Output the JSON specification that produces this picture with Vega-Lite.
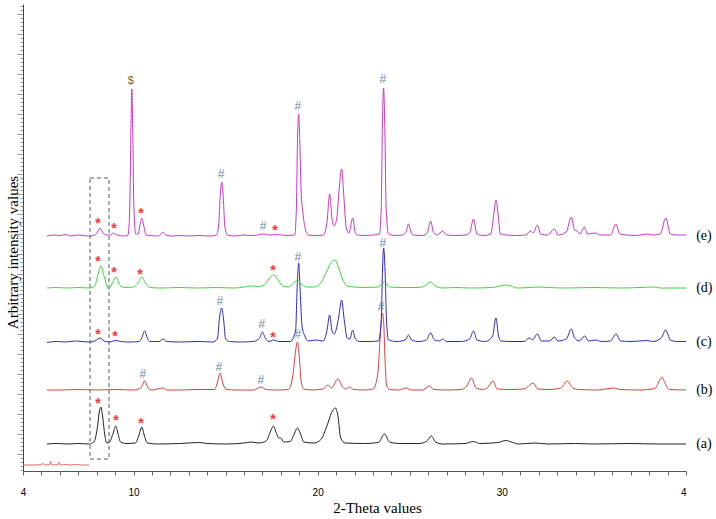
{
"$schema": "https://vega.github.io/schema/vega-lite/v6.json",
"width": 663, "height": 467,
"autosize": {"type": "none"},
"padding": {"left": 23, "top": 4, "right": 30, "bottom": 48},
"background": "white",
"config": {"view": {"stroke": null}},
"datasets": {
"box": [{"x": 7.64, "xe": 8.67, "y": 12, "ye": 293}],
"labels": [{"x": 40.55, "y": 27, "t": "(a)"}, {"x": 40.55, "y": 81, "t": "(b)"}, {"x": 40.55, "y": 129, "t": "(c)"}, {"x": 40.55, "y": 183, "t": "(d)"}, {"x": 40.55, "y": 235, "t": "(e)"}],
"marks": [
{"t":"*","x":8.07,"y":250},{"t":"*","x":8.94,"y":245},{"t":"*","x":10.41,"y":260},{"t":"$","x":9.86,"y":390},{"t":"#","x":14.75,"y":297},{"t":"#","x":17.03,"y":245},{"t":"*","x":17.68,"y":243},{"t":"#","x":18.93,"y":365},{"t":"#","x":23.54,"y":392},
{"t":"*","x":8.07,"y":212},{"t":"*","x":8.94,"y":201},{"t":"*","x":10.35,"y":199},{"t":"*","x":17.57,"y":203},{"t":"#","x":18.93,"y":214},{"t":"#","x":23.54,"y":228},
{"t":"*","x":8.07,"y":139},{"t":"*","x":8.99,"y":137},{"t":"#","x":14.69,"y":170},{"t":"#","x":16.97,"y":147},{"t":"*","x":17.57,"y":136},{"t":"#","x":18.93,"y":137},{"t":"#","x":23.44,"y":164},
{"t":"#","x":10.51,"y":97},{"t":"#","x":14.64,"y":104},{"t":"#","x":16.92,"y":91},
{"t":"*","x":8.07,"y":70},{"t":"*","x":9.05,"y":53},{"t":"*","x":10.41,"y":50},{"t":"*","x":17.57,"y":54}
],
"traces": [
{"s":"f","x":4.0,"y":6},{"s":"f","x":4.6,"y":6},{"s":"f","x":5.0,"y":6.5},{"s":"f","x":5.08,"y":8},{"s":"f","x":5.15,"y":6},{"s":"f","x":5.45,"y":6.5},{"s":"f","x":5.5,"y":10},{"s":"f","x":5.55,"y":6},{"s":"f","x":5.9,"y":6.5},{"s":"f","x":5.95,"y":9},{"s":"f","x":6.0,"y":6},{"s":"f","x":6.3,"y":6.5},{"s":"f","x":6.6,"y":6},{"s":"f","x":6.9,"y":6.5},{"s":"f","x":7.2,"y":6},{"s":"f","x":7.6,"y":6},

{"s":"a","x":5.3,"y":27},{"s":"a","x":5.8,"y":27.5},{"s":"a","x":6.5,"y":27},{"s":"a","x":7.0,"y":27.5},{"s":"a","x":7.6,"y":27},{"s":"a","x":7.85,"y":29},{"s":"a","x":8.05,"y":45},{"s":"a","x":8.15,"y":60},{"s":"a","x":8.23,"y":64},{"s":"a","x":8.32,"y":55},{"s":"a","x":8.45,"y":35},{"s":"a","x":8.55,"y":28},{"s":"a","x":8.7,"y":29},{"s":"a","x":8.9,"y":38},{"s":"a","x":9.04,"y":45},{"s":"a","x":9.15,"y":38},{"s":"a","x":9.3,"y":29},{"s":"a","x":9.6,"y":27.5},{"s":"a","x":10.1,"y":28},{"s":"a","x":10.3,"y":36},{"s":"a","x":10.45,"y":44},{"s":"a","x":10.58,"y":36},{"s":"a","x":10.75,"y":28},{"s":"a","x":11.3,"y":27},{"s":"a","x":12.5,"y":27.5},{"s":"a","x":13.6,"y":28.5},{"s":"a","x":14.0,"y":27.5},{"s":"a","x":15.0,"y":27},{"s":"a","x":16.0,"y":28},{"s":"a","x":16.4,"y":29},{"s":"a","x":16.8,"y":28},{"s":"a","x":17.2,"y":30},{"s":"a","x":17.45,"y":40},{"s":"a","x":17.6,"y":45},{"s":"a","x":17.75,"y":38},{"s":"a","x":17.9,"y":33},{"s":"a","x":18.0,"y":33},{"s":"a","x":18.15,"y":29},{"s":"a","x":18.5,"y":29.5},{"s":"a","x":18.75,"y":38},{"s":"a","x":18.9,"y":43},{"s":"a","x":19.05,"y":38},{"s":"a","x":19.25,"y":29},{"s":"a","x":19.8,"y":28},{"s":"a","x":20.2,"y":32},{"s":"a","x":20.5,"y":45},{"s":"a","x":20.8,"y":60},{"s":"a","x":20.97,"y":63},{"s":"a","x":21.1,"y":55},{"s":"a","x":21.25,"y":33},{"s":"a","x":21.5,"y":28},{"s":"a","x":22.5,"y":27.5},{"s":"a","x":23.3,"y":28.5},{"s":"a","x":23.63,"y":37},{"s":"a","x":23.9,"y":29},{"s":"a","x":24.5,"y":27.5},{"s":"a","x":25.5,"y":27.5},{"s":"a","x":25.9,"y":29.5},{"s":"a","x":26.18,"y":35},{"s":"a","x":26.4,"y":29},{"s":"a","x":26.8,"y":27},{"s":"a","x":28.0,"y":27.5},{"s":"a","x":28.46,"y":29.5},{"s":"a","x":28.8,"y":27.5},{"s":"a","x":29.8,"y":28.5},{"s":"a","x":30.2,"y":30.5},{"s":"a","x":30.6,"y":28.5},{"s":"a","x":30.9,"y":27},{"s":"a","x":31.8,"y":28},{"s":"a","x":32.5,"y":27},{"s":"a","x":34.0,"y":27.5},{"s":"a","x":35.0,"y":27},{"s":"a","x":37.0,"y":27.5},{"s":"a","x":38.5,"y":27},{"s":"a","x":40.0,"y":27},

{"s":"b","x":5.3,"y":81},{"s":"b","x":6.0,"y":81},{"s":"b","x":7.0,"y":81.5},{"s":"b","x":8.0,"y":81},{"s":"b","x":9.0,"y":81.5},{"s":"b","x":10.0,"y":81},{"s":"b","x":10.4,"y":83},{"s":"b","x":10.6,"y":90},{"s":"b","x":10.8,"y":83},{"s":"b","x":11.0,"y":81},{"s":"b","x":11.6,"y":83},{"s":"b","x":11.8,"y":81},{"s":"b","x":12.5,"y":81},{"s":"b","x":13.5,"y":81.5},{"s":"b","x":14.4,"y":81.5},{"s":"b","x":14.55,"y":88},{"s":"b","x":14.7,"y":98},{"s":"b","x":14.85,"y":88},{"s":"b","x":15.0,"y":82},{"s":"b","x":15.5,"y":81},{"s":"b","x":16.5,"y":81},{"s":"b","x":16.96,"y":84},{"s":"b","x":17.2,"y":81.5},{"s":"b","x":17.8,"y":81},{"s":"b","x":18.4,"y":81.5},{"s":"b","x":18.65,"y":95},{"s":"b","x":18.8,"y":120},{"s":"b","x":18.9,"y":129},{"s":"b","x":19.0,"y":115},{"s":"b","x":19.1,"y":90},{"s":"b","x":19.25,"y":82},{"s":"b","x":19.7,"y":81},{"s":"b","x":20.3,"y":82},{"s":"b","x":20.55,"y":86},{"s":"b","x":20.75,"y":83},{"s":"b","x":21.1,"y":92},{"s":"b","x":21.35,"y":84},{"s":"b","x":21.55,"y":82},{"s":"b","x":21.73,"y":84},{"s":"b","x":21.95,"y":81.5},{"s":"b","x":22.5,"y":81},{"s":"b","x":23.0,"y":82},{"s":"b","x":23.25,"y":95},{"s":"b","x":23.4,"y":135},{"s":"b","x":23.5,"y":158},{"s":"b","x":23.58,"y":150},{"s":"b","x":23.66,"y":110},{"s":"b","x":23.75,"y":85},{"s":"b","x":23.9,"y":81.5},{"s":"b","x":24.4,"y":81},{"s":"b","x":24.8,"y":83},{"s":"b","x":25.1,"y":81},{"s":"b","x":25.7,"y":81},{"s":"b","x":26.07,"y":85},{"s":"b","x":26.3,"y":81.5},{"s":"b","x":27.0,"y":81},{"s":"b","x":27.8,"y":81.5},{"s":"b","x":28.1,"y":85},{"s":"b","x":28.35,"y":93},{"s":"b","x":28.6,"y":83},{"s":"b","x":29.0,"y":81.5},{"s":"b","x":29.3,"y":85},{"s":"b","x":29.52,"y":90},{"s":"b","x":29.75,"y":82},{"s":"b","x":30.5,"y":81.5},{"s":"b","x":31.2,"y":82},{"s":"b","x":31.45,"y":85},{"s":"b","x":31.7,"y":88},{"s":"b","x":31.95,"y":82},{"s":"b","x":32.5,"y":81.5},{"s":"b","x":33.2,"y":83},{"s":"b","x":33.55,"y":90},{"s":"b","x":33.85,"y":83},{"s":"b","x":34.2,"y":81.5},{"s":"b","x":35.2,"y":81},{"s":"b","x":36.1,"y":83},{"s":"b","x":36.4,"y":81.5},{"s":"b","x":37.5,"y":81},{"s":"b","x":38.3,"y":82.5},{"s":"b","x":38.55,"y":90},{"s":"b","x":38.7,"y":94},{"s":"b","x":38.85,"y":88},{"s":"b","x":39.1,"y":81.5},{"s":"b","x":40.0,"y":81},

{"s":"c","x":5.3,"y":128.5},{"s":"c","x":5.8,"y":129.5},{"s":"c","x":6.3,"y":129},{"s":"c","x":6.8,"y":130},{"s":"c","x":7.2,"y":129.5},{"s":"c","x":7.6,"y":129},{"s":"c","x":7.9,"y":130},{"s":"c","x":8.18,"y":133},{"s":"c","x":8.4,"y":130},{"s":"c","x":8.7,"y":129},{"s":"c","x":9.04,"y":130.5},{"s":"c","x":9.3,"y":129.5},{"s":"c","x":9.8,"y":129},{"s":"c","x":10.3,"y":129.5},{"s":"c","x":10.45,"y":133},{"s":"c","x":10.6,"y":140},{"s":"c","x":10.75,"y":133},{"s":"c","x":10.9,"y":129.5},{"s":"c","x":11.4,"y":129.5},{"s":"c","x":11.6,"y":132},{"s":"c","x":11.8,"y":129.5},{"s":"c","x":12.5,"y":129},{"s":"c","x":13.5,"y":129.5},{"s":"c","x":14.3,"y":129},{"s":"c","x":14.55,"y":132},{"s":"c","x":14.68,"y":155},{"s":"c","x":14.79,"y":163},{"s":"c","x":14.9,"y":150},{"s":"c","x":15.0,"y":132},{"s":"c","x":15.2,"y":129.5},{"s":"c","x":15.8,"y":129},{"s":"c","x":16.5,"y":129.5},{"s":"c","x":16.85,"y":133},{"s":"c","x":17.0,"y":139},{"s":"c","x":17.15,"y":133},{"s":"c","x":17.35,"y":129.5},{"s":"c","x":17.6,"y":131},{"s":"c","x":17.9,"y":129.5},{"s":"c","x":18.5,"y":129.5},{"s":"c","x":18.8,"y":140},{"s":"c","x":18.9,"y":190},{"s":"c","x":18.97,"y":208},{"s":"c","x":19.05,"y":180},{"s":"c","x":19.15,"y":145},{"s":"c","x":19.3,"y":135},{"s":"c","x":19.5,"y":130},{"s":"c","x":19.9,"y":131},{"s":"c","x":20.3,"y":130},{"s":"c","x":20.5,"y":140},{"s":"c","x":20.65,"y":156},{"s":"c","x":20.78,"y":140},{"s":"c","x":20.9,"y":137},{"s":"c","x":21.15,"y":155},{"s":"c","x":21.3,"y":171},{"s":"c","x":21.45,"y":150},{"s":"c","x":21.6,"y":133},{"s":"c","x":21.75,"y":132},{"s":"c","x":21.9,"y":141},{"s":"c","x":22.05,"y":132},{"s":"c","x":22.3,"y":129.5},{"s":"c","x":22.8,"y":129.5},{"s":"c","x":23.3,"y":130},{"s":"c","x":23.45,"y":150},{"s":"c","x":23.52,"y":200},{"s":"c","x":23.58,"y":223},{"s":"c","x":23.66,"y":200},{"s":"c","x":23.74,"y":150},{"s":"c","x":23.85,"y":131},{"s":"c","x":24.3,"y":129.5},{"s":"c","x":24.75,"y":131},{"s":"c","x":24.93,"y":136},{"s":"c","x":25.1,"y":131},{"s":"c","x":25.5,"y":129.5},{"s":"c","x":25.9,"y":131},{"s":"c","x":26.13,"y":138},{"s":"c","x":26.35,"y":131},{"s":"c","x":26.6,"y":130},{"s":"c","x":26.78,"y":132},{"s":"c","x":27.0,"y":129.5},{"s":"c","x":27.8,"y":129.5},{"s":"c","x":28.25,"y":132},{"s":"c","x":28.46,"y":140},{"s":"c","x":28.65,"y":131},{"s":"c","x":29.1,"y":129.5},{"s":"c","x":29.5,"y":135},{"s":"c","x":29.68,"y":153},{"s":"c","x":29.82,"y":135},{"s":"c","x":29.95,"y":130},{"s":"c","x":30.5,"y":129.5},{"s":"c","x":31.2,"y":129.5},{"s":"c","x":31.5,"y":133},{"s":"c","x":31.65,"y":131},{"s":"c","x":31.93,"y":137},{"s":"c","x":32.15,"y":130},{"s":"c","x":32.6,"y":130},{"s":"c","x":32.85,"y":134},{"s":"c","x":33.05,"y":130},{"s":"c","x":33.5,"y":132},{"s":"c","x":33.77,"y":142},{"s":"c","x":33.95,"y":133},{"s":"c","x":34.2,"y":130},{"s":"c","x":34.5,"y":135},{"s":"c","x":34.7,"y":130},{"s":"c","x":35.1,"y":131},{"s":"c","x":35.4,"y":129.5},{"s":"c","x":35.9,"y":130},{"s":"c","x":36.2,"y":137},{"s":"c","x":36.45,"y":130},{"s":"c","x":37.0,"y":129.5},{"s":"c","x":37.9,"y":130.5},{"s":"c","x":38.2,"y":129.5},{"s":"c","x":38.65,"y":133},{"s":"c","x":38.9,"y":141},{"s":"c","x":39.15,"y":131},{"s":"c","x":39.5,"y":129.5},{"s":"c","x":40.0,"y":129.5},

{"s":"d","x":5.3,"y":183},{"s":"d","x":5.8,"y":183.5},{"s":"d","x":6.4,"y":183},{"s":"d","x":7.0,"y":183.5},{"s":"d","x":7.6,"y":183},{"s":"d","x":7.9,"y":185},{"s":"d","x":8.05,"y":195},{"s":"d","x":8.23,"y":205},{"s":"d","x":8.4,"y":195},{"s":"d","x":8.58,"y":184},{"s":"d","x":8.65,"y":182},{"s":"d","x":8.8,"y":186},{"s":"d","x":9.04,"y":194},{"s":"d","x":9.25,"y":186},{"s":"d","x":9.5,"y":183.5},{"s":"d","x":10.0,"y":184},{"s":"d","x":10.25,"y":188},{"s":"d","x":10.45,"y":194},{"s":"d","x":10.65,"y":188},{"s":"d","x":10.9,"y":183.5},{"s":"d","x":11.5,"y":183},{"s":"d","x":12.5,"y":183.5},{"s":"d","x":13.5,"y":183},{"s":"d","x":14.5,"y":183.5},{"s":"d","x":15.5,"y":183},{"s":"d","x":16.0,"y":184},{"s":"d","x":16.4,"y":185},{"s":"d","x":16.8,"y":184.5},{"s":"d","x":17.1,"y":186},{"s":"d","x":17.35,"y":192},{"s":"d","x":17.6,"y":196},{"s":"d","x":17.85,"y":191},{"s":"d","x":18.1,"y":185},{"s":"d","x":18.4,"y":184},{"s":"d","x":18.7,"y":188},{"s":"d","x":18.9,"y":191},{"s":"d","x":19.1,"y":187},{"s":"d","x":19.4,"y":184},{"s":"d","x":19.8,"y":184},{"s":"d","x":20.2,"y":189},{"s":"d","x":20.5,"y":200},{"s":"d","x":20.8,"y":210},{"s":"d","x":20.95,"y":211},{"s":"d","x":21.1,"y":205},{"s":"d","x":21.35,"y":192},{"s":"d","x":21.6,"y":185},{"s":"d","x":22.0,"y":184},{"s":"d","x":22.5,"y":183.5},{"s":"d","x":23.3,"y":184},{"s":"d","x":23.63,"y":189},{"s":"d","x":23.9,"y":184},{"s":"d","x":24.5,"y":183.5},{"s":"d","x":25.5,"y":183.5},{"s":"d","x":25.8,"y":185},{"s":"d","x":26.13,"y":189},{"s":"d","x":26.4,"y":185},{"s":"d","x":26.8,"y":183},{"s":"d","x":27.5,"y":183.5},{"s":"d","x":28.3,"y":183},{"s":"d","x":29.5,"y":183.5},{"s":"d","x":29.9,"y":185},{"s":"d","x":30.2,"y":186},{"s":"d","x":30.5,"y":185},{"s":"d","x":30.8,"y":183},{"s":"d","x":31.5,"y":183.5},{"s":"d","x":32.0,"y":184},{"s":"d","x":32.5,"y":183.5},{"s":"d","x":33.5,"y":183},{"s":"d","x":35.0,"y":183.5},{"s":"d","x":36.5,"y":183},{"s":"d","x":37.5,"y":183.5},{"s":"d","x":38.3,"y":184},{"s":"d","x":38.6,"y":183},{"s":"d","x":40.0,"y":183},

{"s":"e","x":5.3,"y":235},{"s":"e","x":5.7,"y":236},{"s":"e","x":6.0,"y":235.5},{"s":"e","x":6.3,"y":236.5},{"s":"e","x":6.6,"y":235},{"s":"e","x":7.0,"y":236},{"s":"e","x":7.3,"y":235.5},{"s":"e","x":7.6,"y":235},{"s":"e","x":7.85,"y":235.5},{"s":"e","x":8.05,"y":239},{"s":"e","x":8.18,"y":243},{"s":"e","x":8.32,"y":239},{"s":"e","x":8.5,"y":236},{"s":"e","x":8.75,"y":236},{"s":"e","x":8.9,"y":238},{"s":"e","x":9.1,"y":236},{"s":"e","x":9.5,"y":235},{"s":"e","x":9.7,"y":236},{"s":"e","x":9.8,"y":265},{"s":"e","x":9.86,"y":340},{"s":"e","x":9.91,"y":382},{"s":"e","x":9.96,"y":340},{"s":"e","x":10.02,"y":265},{"s":"e","x":10.12,"y":237},{"s":"e","x":10.25,"y":237},{"s":"e","x":10.35,"y":246},{"s":"e","x":10.45,"y":253},{"s":"e","x":10.55,"y":246},{"s":"e","x":10.68,"y":236},{"s":"e","x":11.3,"y":235},{"s":"e","x":11.5,"y":237},{"s":"e","x":11.6,"y":239},{"s":"e","x":11.75,"y":236},{"s":"e","x":12.1,"y":235},{"s":"e","x":12.5,"y":235.5},{"s":"e","x":13.0,"y":235},{"s":"e","x":13.5,"y":235.5},{"s":"e","x":14.2,"y":235},{"s":"e","x":14.5,"y":236},{"s":"e","x":14.62,"y":245},{"s":"e","x":14.72,"y":278},{"s":"e","x":14.79,"y":289},{"s":"e","x":14.86,"y":278},{"s":"e","x":14.96,"y":245},{"s":"e","x":15.1,"y":236},{"s":"e","x":15.5,"y":235},{"s":"e","x":16.0,"y":236},{"s":"e","x":16.5,"y":235.5},{"s":"e","x":17.07,"y":237},{"s":"e","x":17.4,"y":236},{"s":"e","x":17.7,"y":236.5},{"s":"e","x":18.4,"y":235.5},{"s":"e","x":18.75,"y":236},{"s":"e","x":18.84,"y":260},{"s":"e","x":18.91,"y":335},{"s":"e","x":18.97,"y":357},{"s":"e","x":19.03,"y":330},{"s":"e","x":19.1,"y":280},{"s":"e","x":19.2,"y":258},{"s":"e","x":19.33,"y":242},{"s":"e","x":19.5,"y":236},{"s":"e","x":19.9,"y":235.5},{"s":"e","x":20.3,"y":236},{"s":"e","x":20.5,"y":248},{"s":"e","x":20.65,"y":277},{"s":"e","x":20.78,"y":252},{"s":"e","x":20.9,"y":245},{"s":"e","x":21.05,"y":255},{"s":"e","x":21.18,"y":285},{"s":"e","x":21.3,"y":302},{"s":"e","x":21.42,"y":275},{"s":"e","x":21.55,"y":243},{"s":"e","x":21.7,"y":238},{"s":"e","x":21.9,"y":253},{"s":"e","x":22.05,"y":238},{"s":"e","x":22.2,"y":236},{"s":"e","x":22.6,"y":235.5},{"s":"e","x":23.0,"y":236},{"s":"e","x":23.35,"y":237},{"s":"e","x":23.45,"y":262},{"s":"e","x":23.52,"y":350},{"s":"e","x":23.58,"y":383},{"s":"e","x":23.64,"y":350},{"s":"e","x":23.72,"y":262},{"s":"e","x":23.85,"y":237},{"s":"e","x":24.2,"y":235.5},{"s":"e","x":24.6,"y":236},{"s":"e","x":24.8,"y":239},{"s":"e","x":24.93,"y":247},{"s":"e","x":25.07,"y":239},{"s":"e","x":25.2,"y":236},{"s":"e","x":25.7,"y":235.5},{"s":"e","x":25.95,"y":238},{"s":"e","x":26.13,"y":250},{"s":"e","x":26.3,"y":238},{"s":"e","x":26.5,"y":236},{"s":"e","x":26.78,"y":240},{"s":"e","x":27.0,"y":236},{"s":"e","x":27.5,"y":235.5},{"s":"e","x":28.0,"y":236},{"s":"e","x":28.25,"y":238},{"s":"e","x":28.46,"y":252},{"s":"e","x":28.65,"y":237},{"s":"e","x":29.0,"y":235.5},{"s":"e","x":29.4,"y":237},{"s":"e","x":29.57,"y":258},{"s":"e","x":29.68,"y":271},{"s":"e","x":29.79,"y":258},{"s":"e","x":29.92,"y":237},{"s":"e","x":30.3,"y":236},{"s":"e","x":30.8,"y":235.5},{"s":"e","x":31.3,"y":236},{"s":"e","x":31.55,"y":240},{"s":"e","x":31.7,"y":238},{"s":"e","x":31.93,"y":246},{"s":"e","x":32.1,"y":237},{"s":"e","x":32.5,"y":236},{"s":"e","x":32.85,"y":242},{"s":"e","x":33.05,"y":236},{"s":"e","x":33.5,"y":239},{"s":"e","x":33.77,"y":254},{"s":"e","x":33.95,"y":241},{"s":"e","x":34.1,"y":240},{"s":"e","x":34.25,"y":237},{"s":"e","x":34.48,"y":244},{"s":"e","x":34.65,"y":237},{"s":"e","x":35.07,"y":238},{"s":"e","x":35.3,"y":236},{"s":"e","x":35.9,"y":236},{"s":"e","x":36.2,"y":247},{"s":"e","x":36.4,"y":237},{"s":"e","x":36.8,"y":236},{"s":"e","x":37.2,"y":235.5},{"s":"e","x":37.5,"y":236},{"s":"e","x":37.9,"y":237},{"s":"e","x":38.2,"y":236},{"s":"e","x":38.6,"y":237},{"s":"e","x":38.9,"y":253},{"s":"e","x":39.15,"y":237},{"s":"e","x":39.5,"y":236},{"s":"e","x":40.0,"y":236}
]
},
"encoding": {
"x": {"field": "x", "type": "quantitative", "scale": {"domain": [4, 40], "nice": false, "zero": false},
 "axis": {"values": [4,5,6,7,8,9,10,11,12,13,14,15,16,17,18,19,20,21,22,23,24,25,26,27,28,29,30,31,32,33,34,35,36,37,38,39,40],
  "labelExpr": "datum.value == 40 ? '4' : (datum.value == 4 || datum.value % 10 == 0 ? datum.label : '')",
  "labelAlign": {"condition": {"test": "datum.value == 40", "value": "right"}, "value": "center"},
  "labelFlush": false, "labelOverlap": false, "grid": false,
  "tickSize": 4, "tickColor": "#666", "domainColor": "#555",
  "labelFont": "Liberation Sans", "labelFontSize": 10, "labelColor": "#000", "labelPadding": 12,
  "title": "2-Theta values", "titleFont": "Liberation Serif", "titleFontSize": 15, "titleFontWeight": "normal", "titleColor": "#000",
  "titleX": 354, "titleAlign": "center", "titleY": 36, "titleBaseline": "middle"}},
"y": {"field": "y", "type": "quantitative", "scale": {"domain": [0, 467], "nice": false, "zero": false},
 "axis": {"values": [1,5,9,13,17,21,25,29,33,37,41,45,49,53,57,61,65,69,73,77,81,85,89,93,97,101,105,109,113,117,121,125,129,133,137,141,145,149,153,157,161,165,169,173,177,181,185,189,193,197,201,205,209,213,217,221,225,229,233,237,241,245,249,253,257,261,265,269,273,277,281,285,289,293,297,301,305,309,313,317,321,325,329,333,337,341,345,349,353,357,361,365,369,373,377,381,385,389,393,397,401,405,409,413,417,421,425,429,433,437,441,445,449,453,457,461,465],
  "labels": false, "grid": false, "tickColor": "#999",
  "tickSize": {"condition": {"test": "datum.value % 20 == 17", "value": 6}, "value": 3},
  "domainColor": "#444",
  "title": "Arbitrary intensity values", "titleFont": "Liberation Serif", "titleFontSize": 15, "titleFontWeight": "normal", "titleColor": "#000",
  "titleX": -11, "titleY": 248, "titleAngle": 270, "titleAlign": "center", "titleBaseline": "middle"}}
},
"layer": [
{"data": {"name": "box"}, "mark": {"type": "rect", "filled": false, "stroke": "#4a5a7a", "strokeDash": [4, 3], "strokeWidth": 1},
 "encoding": {"x2": {"field": "xe"}, "y2": {"field": "ye"}}},
{"data": {"name": "traces"}, "mark": {"type": "line", "strokeWidth": 1, "interpolate": "monotone"},
 "encoding": {"color": {"field": "s", "type": "nominal", "scale": {"domain": ["a","b","c","d","e","f"], "range": ["#222222","#e03c3c","#2a2acc","#33dd33","#cc33cc","#e06a6a"]}, "legend": null}}},
{"data": {"name": "marks"}, "transform": [{"filter": "datum.t == '*'"}],
 "mark": {"type": "text", "color": "#ff3333", "font": "Liberation Sans", "fontSize": 14, "fontWeight": "bold", "baseline": "middle", "dy": 3},
 "encoding": {"text": {"field": "t"}}},
{"data": {"name": "marks"}, "transform": [{"filter": "datum.t == '#'"}],
 "mark": {"type": "text", "color": "#6a86a8", "font": "Liberation Sans", "fontSize": 12, "baseline": "middle"},
 "encoding": {"text": {"field": "t"}}},
{"data": {"name": "marks"}, "transform": [{"filter": "datum.t == '$'"}],
 "mark": {"type": "text", "color": "#6e6e3c", "font": "Liberation Sans", "fontSize": 11, "baseline": "middle"},
 "encoding": {"text": {"field": "t"}}},
{"data": {"name": "labels"},
 "mark": {"type": "text", "color": "#000", "font": "Liberation Serif", "fontSize": 14, "align": "left", "baseline": "middle"},
 "encoding": {"text": {"field": "t"}}}
]
}
